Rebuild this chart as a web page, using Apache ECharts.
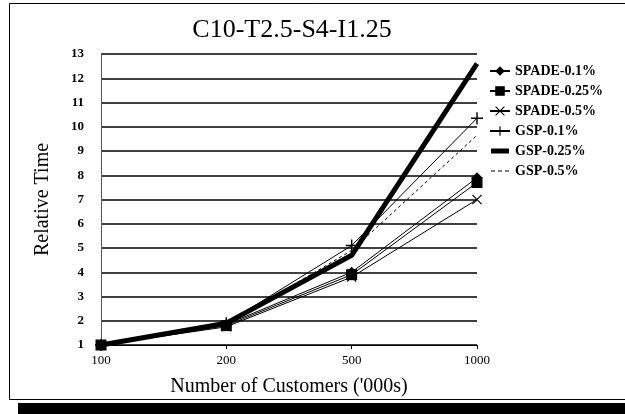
<!DOCTYPE html>
<html>
<head>
<meta charset="utf-8">
<script src="https://cdn.jsdelivr.net/npm/echarts@6/dist/echarts.min.js"></script>
<style>
html,body{margin:0;padding:0;background:#fff;}
#c{width:625px;height:414px;}
</style>
</head>
<body>
<div id="c"></div>
<script>
const categories = ['100', '200', '500', '1000'];
const spade01 = [1, 1.85, 4.0, 7.9];
const spade025 = [1, 1.8, 3.9, 7.7];
const spade05 = [1, 1.75, 3.8, 7.0];
const gsp01 = [1, 1.9, 5.1, 10.35];
const gsp025 = [1, 1.9, 4.7, 12.6];
const gsp05 = [1, 1.85, 4.9, 9.65];
const yTicks = [1,2,3,4,5,6,7,8,9,10,11,12,13];

const serif = '"Liberation Serif", "DejaVu Serif", serif';
const plusPath = 'path://M0,4.4H10V5.6H0Z M4.4,0H5.6V10H4.4Z';
const xPath = 'path://M0,0.8L0.8,0L10,9.2L9.2,10Z M9.2,0L10,0.8L0.8,10L0,9.2Z';
const ext = 'M0,0L0.01,0L0.01,0.01Z M19.99,11.99L20,11.99L20,12Z ';
const thickIcon = 'path://' + ext + 'M1,3.5H19V8.5H1Z';
const dashIcon = 'path://' + ext + 'M1,5.5H5V6.5H1Z M8,5.5H12V6.5H8Z M15,5.5H19V6.5H15Z';

const chart = echarts.init(document.getElementById('c'), null, {renderer: 'canvas'});

function line(name, data, opts) {
  return Object.assign({
    name: name,
    type: 'line',
    data: data,
    animation: false,
    symbol: 'none',
    color: '#000',
    lineStyle: {color: '#000', width: 1},
    itemStyle: {color: '#000'},
    z: 3
  }, opts);
}

chart.setOption({
  backgroundColor: '#fff',
  animation: false,
  title: {
    text: 'C10-T2.5-S4-I1.25',
    left: 287, textAlign: 'center',
    top: 12,
    textStyle: {fontFamily: serif, fontSize: 26, fontWeight: 'normal', color: '#000'}
  },
  graphic: [
    {type: 'rect', shape: {x: 9.5, y: 3.5, width: 640, height: 396}, style: {fill: 'none', stroke: '#000', lineWidth: 1}, z: -1},
    {type: 'rect', shape: {x: 18, y: 403, width: 620, height: 12}, style: {fill: '#000'}, z: -1}
  ],
  legend: {
    orient: 'vertical',
    left: 484,
    top: 59,
    itemWidth: 20,
    itemHeight: 12,
    itemGap: 6,
    textStyle: {fontFamily: serif, fontSize: 14, fontWeight: 'bold', color: '#000', lineHeight: 14},
    data: [
      {name: 'SPADE-0.1%'},
      {name: 'SPADE-0.25%'},
      {name: 'SPADE-0.5%'},
      {name: 'GSP-0.1%'},
      {name: 'GSP-0.25%', icon: thickIcon},
      {name: 'GSP-0.5%', icon: dashIcon}
    ]
  },
  grid: {left: 101, right: 148, top: 54, bottom: 69, containLabel: false},
  xAxis: {
    type: 'category',
    data: categories,
    boundaryGap: false,
    name: "Number of Customers ('000s)",
    nameLocation: 'middle',
    nameGap: 32,
    nameTextStyle: {fontFamily: serif, fontSize: 20, color: '#000'},
    axisLine: {lineStyle: {color: '#000', width: 1}},
    axisTick: {show: true, length: 4, inside: false, lineStyle: {color: '#000'}},
    axisLabel: {fontFamily: serif, fontSize: 13, color: '#000', margin: 9},
    splitLine: {show: false}
  },
  yAxis: {
    type: 'value',
    min: 1, max: 13, interval: 1,
    name: 'Relative Time',
    nameLocation: 'middle',
    nameRotate: 90,
    nameGap: 48,
    nameTextStyle: {fontFamily: serif, fontSize: 20, color: '#000'},
    axisLine: {show: true, lineStyle: {color: '#555', width: 1}},
    axisTick: {show: false},
    axisLabel: {fontFamily: serif, fontSize: 13, fontWeight: 'bold', color: '#000', margin: 17,
      formatter: function (v) { return yTicks.indexOf(v) >= 0 ? String(v) : ''; }},
    splitLine: {show: true, lineStyle: {color: '#000', width: 1.5}}
  },
  series: [
    line('SPADE-0.1%', spade01, {symbol: 'diamond', symbolSize: 11, showSymbol: true}),
    line('SPADE-0.25%', spade025, {symbol: 'rect', symbolSize: 11, showSymbol: true}),
    line('SPADE-0.5%', spade05, {symbol: xPath, symbolSize: 10, showSymbol: true}),
    line('GSP-0.1%', gsp01, {symbol: plusPath, symbolSize: 12, showSymbol: true}),
    line('GSP-0.25%', gsp025, {lineStyle: {color: '#000', width: 5}, z: 4}),
    line('GSP-0.5%', gsp05, {lineStyle: {color: '#000', width: 1, type: [3, 3]}})
  ]
});
</script>
</body>
</html>
